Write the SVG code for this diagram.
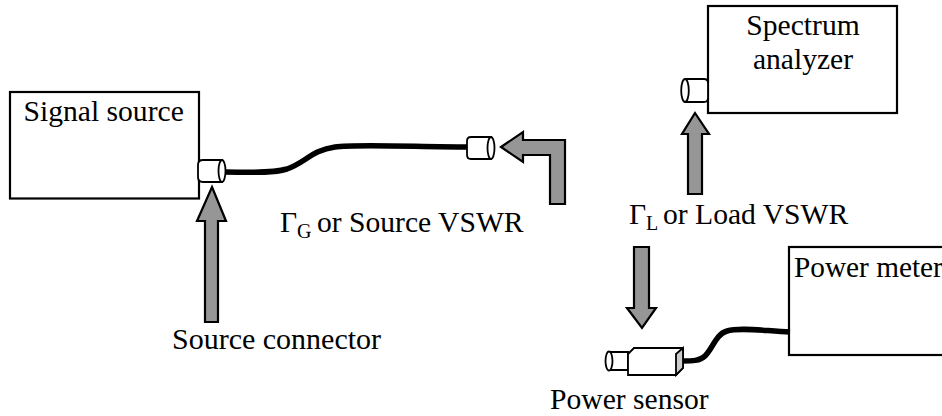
<svg xmlns="http://www.w3.org/2000/svg" width="942" height="416" viewBox="0 0 942 416">
<style>
text{font-family:"Liberation Serif","Times New Roman",serif;font-size:29.600px;fill:#000}
.sub{font-size:20px}
.box{fill:#fff;stroke:#000;stroke-width:2.2}
.arr{fill:#969696;stroke:#000;stroke-width:2.2;stroke-linejoin:miter}
.cable{fill:none;stroke:#000;stroke-width:5.500}
.c{fill:#fff;stroke:#000;stroke-width:1.8}
</style>
<rect width="942" height="416" fill="#fff"/>
<g id="signal-source"><rect class="box" x="10" y="92" width="189" height="106.500"/><text x="23.500" y="121">Signal source</text></g>
<g id="spectrum-analyzer"><rect class="box" x="708" y="6" width="189" height="107"/><text x="803" y="35" text-anchor="middle">Spectrum</text><text x="803" y="69" text-anchor="middle">analyzer</text></g>
<g id="power-meter"><rect class="box" x="789" y="247" width="170" height="108"/><text x="794" y="277" style="font-size:29.300px">Power meter</text></g>
<g id="connectors">
<path class="cable" d="M224 172C245 172 270 174 287 169C305 163 312 150 335 147C355 144 420 147 467 147"/>
<path class="cable" d="M682 361C692 361 700 361 705 356C713 348 716 334 727 331C740 327 765 331 790 332"/>
</g>
<g id="source-connector"><path class="c" d="M203 160H222V182H203Q198 182 198 177V165Q198 160 203 160Z"/><ellipse class="c" cx="222" cy="171" rx="3.500" ry="11"/></g>
<g id="cable-end"><path class="c" d="M471 137H491V159H471Q467 159 467 155V141Q467 137 471 137Z"/><ellipse class="c" cx="491" cy="148" rx="3.500" ry="11"/></g>
<g id="analyzer-connector"><path class="c" d="M685 79H704Q708 79 708 83V98Q708 102 704 102H685"/><ellipse class="c" cx="685" cy="90.500" rx="3.800" ry="11.500"/></g>
<g id="power-sensor">
<path class="c" d="M609 352H628V370H609"/><ellipse class="c" cx="609" cy="361" rx="3.500" ry="9.500"/>
<path class="c" d="M628 354L634 348H683V368L676 375H628Z"/>
<path d="M676 354L683 348V368L676 375Z" fill="#ccc" stroke="#000" stroke-width="1.800"/>
</g>
<g id="arrow-source"><path class="arr" d="M212 187L226 221H218V322H205V221H197Z"/></g>
<g id="arrow-source-vswr"><path class="arr" d="M501 147L523 132V140H565V204H550V155H523V162Z"/></g>
<g id="arrow-load"><path class="arr" d="M695 113L709 134H702V194H688V134H682Z"/></g>
<g id="arrow-sensor"><path class="arr" d="M634 247H649V308H656L642 328L627 308H634Z"/></g>
<g id="labels">
<text x="172" y="349" style="font-size:30px">Source connector</text>
<text x="280" y="232">Γ<tspan class="sub" dy="6">G</tspan></text><text x="317" y="232">or Source VSWR</text>
<text x="629" y="224">Γ<tspan class="sub" dy="6">L</tspan></text><text x="663" y="224">or Load VSWR</text>
<text x="550" y="409">Power sensor</text>
</g>
</svg>
